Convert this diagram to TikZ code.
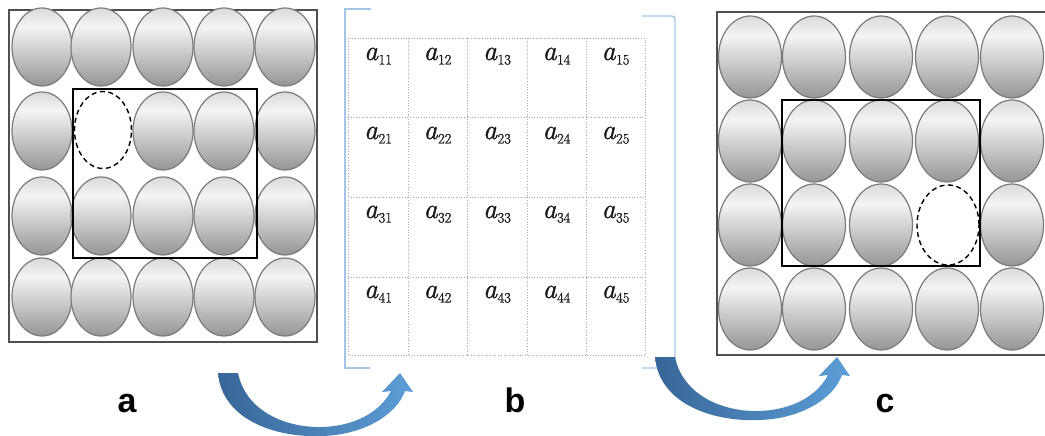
\RequirePackage{fix-cm}
\documentclass[tikz,border=0pt]{standalone}
\usepackage{fontspec}
\newfontfamily\labelfont{Liberation Sans}
\newfontfamily\entryfont{Latin Modern Roman}[FakeBold=1.2]
\usetikzlibrary{shapes.geometric}

% colours
\definecolor{eggA}{HTML}{959595}
\definecolor{eggC}{HTML}{F4F4F4}
\definecolor{eggD}{HTML}{DADADA}
\definecolor{eggline}{HTML}{7A7A7A}
\definecolor{framegray}{HTML}{505050}
\definecolor{bracketblue}{HTML}{A4C6E6}
\definecolor{gridblue}{HTML}{9AA8BE}
\definecolor{entrycol}{HTML}{1A1A1A}
\definecolor{arrowdark}{RGB}{56,102,152}
\definecolor{arrowlight}{RGB}{93,157,215}

% vertical shading of the balls: dark bottom, bright upper part, soft grey rim on top
\pgfdeclareverticalshading{eggshade}{100bp}{color(0bp)=(eggA); color(25bp)=(eggA); color(63bp)=(eggC); color(75bp)=(eggD); color(100bp)=(eggD)}

% matrix entry a_{ij}: italic letter with a lowered index
\newcommand{\matentry}[2]{{\itshape a}\kern0.5pt\raisebox{-4.5pt}{\fontsize{14.5}{14.5}\selectfont #1#2}}

\tikzset{
  egg/.style={ellipse, draw=eggline, line width=1.2pt, shading=eggshade, inner sep=0pt},
  smallegg/.style={egg, minimum width=60pt, minimum height=78pt},
  bigegg/.style={egg, minimum width=63pt, minimum height=82pt},
  hole/.style={ellipse, draw=black, fill=white, line width=1.4pt, dash pattern=on 5pt off 3.5pt, inner sep=0pt},
  outerframe/.style={draw=framegray, line width=1.3pt},
  window/.style={draw=black, line width=2pt},
  bracketline/.style={draw=bracketblue, line width=1.4pt},
  gridline/.style={draw=gridblue, line width=0.7pt, dotted},
  entry/.style={anchor=base, inner sep=0pt, text=entrycol, font=\entryfont\fontsize{28}{32}\selectfont},
  panellabel/.style={anchor=base, inner sep=0pt, font=\labelfont\bfseries\fontsize{34}{40}\selectfont},
  blockarrow/.style={left color=arrowdark, right color=arrowlight}
}

\begin{document}
\begin{tikzpicture}[x=1pt, y=-1pt]
\useasboundingbox (0,0) rectangle (1045,436);

% ---------- panel a ----------
\draw[outerframe] (9,10) rectangle (317,342);
\foreach \r/\y in {1/47,2/131,3/216,4/297}{
  \foreach \c/\x in {1/42,2/101,3/163,4/224,5/285}{
    \ifnum\r\c=22
      \node[hole, minimum width=57pt, minimum height=77pt] (L\r\c) at (103,130) {};
    \else
      \node[smallegg] (L\r\c) at (\x,\y) {};
    \fi
  }
}
\draw[window] (73,89) rectangle (257,258);

% ---------- panel b: the matrix ----------
\draw[bracketline] (371,9) -- (345,9) -- (345,368) -- (370,368);
\draw[bracketline, rounded corners=3pt] (642,16) -- (675,16) -- (675,368) -- (642,368);
\draw[gridline] (348,38) rectangle (645,355);
\foreach \x in {408,467,527,586} \draw[gridline] (\x,38) -- (\x,355);
\foreach \y in {117,197,277} \draw[gridline] (348,\y) -- (645,\y);
\foreach \i/\b in {1/60,2/139,3/218,4/298}{
  \foreach \j/\x in {1/378,2/437.5,3/497,4/556.5,5/615.5}{
    \node[entry] (m\i\j) at (\x,\b) {\matentry{\i}{\j}};
  }
}

% ---------- panel c ----------
\draw[outerframe] (717,12) rectangle (1050,355);
\foreach \r/\y in {1/57,2/141,3/225,4/309}{
  \foreach \c/\x in {1/750,2/814,3/881,4/947,5/1012}{
    \ifnum\r\c=34
      \node[hole, minimum width=62pt, minimum height=80pt] (R\r\c) at (948,225) {};
    \else
      \node[bigegg] (R\r\c) at (\x,\y) {};
    \fi
  }
}
\draw[window, line width=1.7pt] (782,100) rectangle (980,266);

% ---------- curved block arrows ----------
\foreach \dx/\dy in {0/0, 437/-16}{
  \begin{scope}[shift={(\dx,\dy)}]
    \shade[blockarrow]
      (218,373) .. controls (222,420) and (276,438) .. (322,436)
      .. controls (362,435) and (396,416) .. (405,391)
      -- (413,392) -- (400,373) -- (382,392) -- (391,391)
      .. controls (380,412) and (355,426) .. (322,427)
      .. controls (287,428) and (246,412) .. (238,373) -- cycle;
  \end{scope}
}

% ---------- panel letters ----------
\node[panellabel] (labA) at (127,412) {a};
\node[panellabel] (labB) at (515,412) {b};
\node[panellabel] (labC) at (885,412) {c};
\end{tikzpicture}
\end{document}
